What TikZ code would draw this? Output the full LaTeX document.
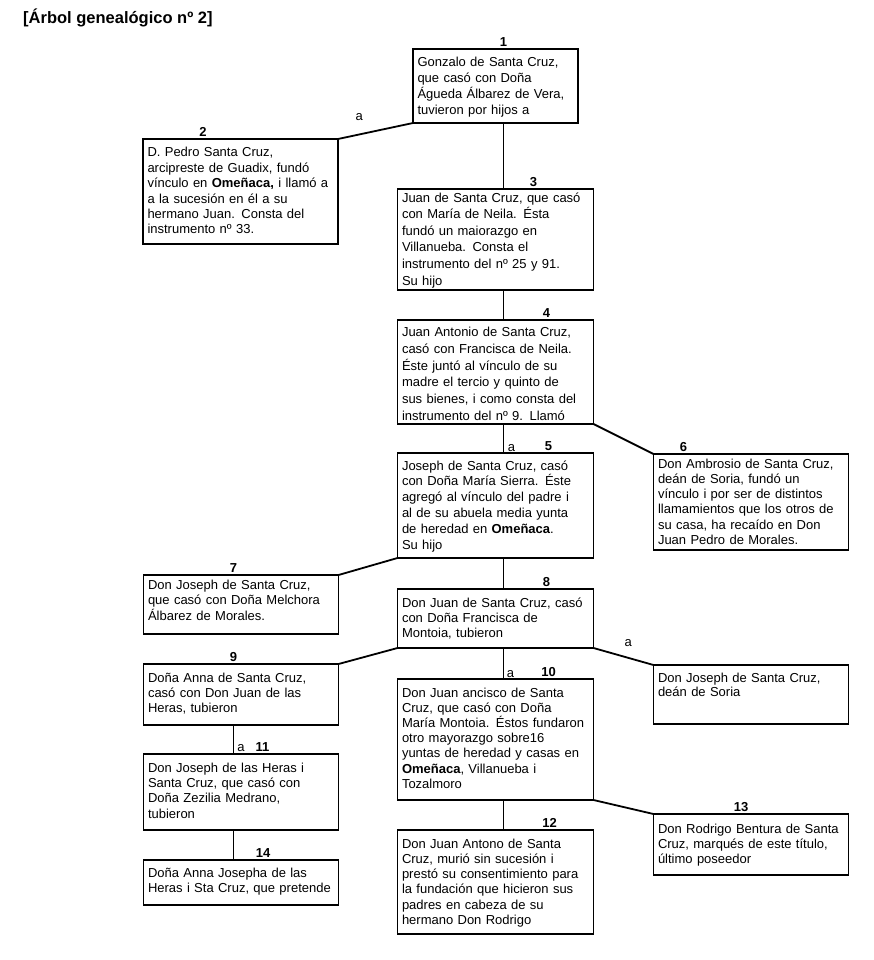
\documentclass[tikz,border=0pt]{standalone}
\usepackage{fontspec}
\setmainfont{Liberation Sans}
\usetikzlibrary{positioning}
\newcommand{\numfont}{\fontsize{13}{14}\selectfont\bfseries}
\tikzset{
	lead/.style={font=\fontsize{13}{#1}\selectfont},
	fam/.style={draw, line width=1.2pt, outer sep=0pt, inner xsep=4.5pt, inner ysep=0pt, text width=186pt, align=left, lead=15.2pt, text height=18pt},
	num/.style={inner sep=0pt, font=\numfont},
	lab/.style={inner sep=0pt, font=\fontsize{13}{15}\selectfont},
	conn/.style={line width=1.8pt}
}
\begin{document}
\begin{tikzpicture}[x=1pt, y=1pt]
				\useasboundingbox (0,0) rectangle (873,-960);
				\node[anchor=base west, inner sep=0pt, font=\fontsize{16.5}{20}\selectfont\bfseries] (title) at (23,-24) {[Árbol genealógico nº 2]};

				\node[fam, text width=156pt, lead=15.9pt, text depth=56pt, anchor=north west] (n1) at (413,-49) {Gonzalo de Santa Cruz,\\ que casó con  Doña\\ Águeda Álbarez  de Vera,\\ tuvieron por hijos a};
				\node[fam, lead=15.4pt, text height=18pt, text depth=87pt, below left=16pt and 75pt of n1.south west] (n2) {D. Pedro Santa Cruz,\\ arcipreste de Guadix, fundó\\ vínculo en \textbf{Omeñaca,} i llamó a\\ a la sucesión en él a su\\ hermano Juan. Consta del\\ instrumento nº 33.};
				\node[fam, text width=187pt, lead=16.6pt, text height=13pt, text depth=88pt, below=66pt of n1] (n3) {Juan de Santa Cruz, que casó\\ con María de Neila.  Ésta\\ fundó  un maiorazgo en\\ Villanueba. Consta el\\ instrumento  del nº 25 y 91.\\ Su hijo};
				\node[fam, text width=187pt, lead=16.7pt, text height=16.7pt, text depth=87.3pt, below=30pt of n3] (n4) {Juan Antonio de Santa Cruz,\\ casó con Francisca de Neila.\\ Éste juntó al vínculo de su\\ madre  el tercio y quinto de\\ sus bienes, i como consta del\\ instrumento del nº 9. Llamó};
				\node[fam, text width=187pt, lead=15.8pt, text height=17pt, text depth=88pt, below=29pt of n4] (n5) {Joseph de Santa Cruz, casó\\ con Doña María Sierra. Éste\\ agregó al vínculo del padre  i\\ al de su abuela media yunta\\ de heredad en \textbf{Omeñaca}.\\ Su hijo};
				\node[fam, lead=15.3pt, text height=14pt, text depth=82pt, below right=30pt and 60pt of n4.south east] (n6) {Don Ambrosio de Santa Cruz,\\ deán de Soria, fundó un\\ vínculo i por ser de distintos\\ llamamientos que los otros de\\ su casa, ha recaído en Don\\ Juan Pedro de Morales.};
				\node[fam, lead=15.8pt, text height=14pt, text depth=45pt, below left=17pt and 59pt of n5.south west] (n7) {Don Joseph de Santa Cruz,\\ que casó con Doña Melchora\\ Álbarez de Morales.};
				\node[fam, text width=187pt, text depth=41pt, below=31pt of n5] (n8) {Don Juan de Santa Cruz, casó\\ con Doña Francisca de\\ Montoia, tubieron};
				\node[fam, text height=18.5pt, text depth=42.5pt, below left=16pt and 59pt of n8.south west] (n9) {Doña Anna de Santa Cruz,\\ casó con Don Juan de las\\ Heras, tubieron};
				\node[fam, text width=187pt, text depth=103pt, below=31pt of n8] (n10) {Don Juan ancisco de Santa\\ Cruz, que casó con Doña\\ María Montoia. Éstos fundaron\\ otro mayorazgo sobre16\\ yuntas de heredad y casas en\\ \textbf{Omeñaca}, Villanueba i\\ Tozalmoro};
				\node[fam, lead=14.7pt, text height=17pt, text depth=42pt, below right=17pt and 60pt of n8.south east] (dean) {Don Joseph de Santa Cruz,\\ deán de Soria};
				\node[fam, text height=18.5pt, text depth=57.5pt, below=29pt of n9] (n11) {Don Joseph de las Heras  i\\ Santa Cruz, que casó con\\ Doña Zezilia Medrano,\\ tubieron};
				\node[fam, text width=187pt, lead=15.3pt, text depth=86pt, below=30pt of n10] (n12) {Don Juan Antono de Santa\\ Cruz,  murió sin sucesión i\\ prestó su consentimiento para\\ la  fundación que hicieron sus\\ padres en cabeza de su\\ hermano Don Rodrigo};
				\node[fam, lead=15.3pt, text height=19pt, text depth=42pt, below right=14pt and 60pt of n10.south east] (n13) {Don Rodrigo Bentura de Santa\\ Cruz, marqués de este título,\\ último poseedor};
				\node[fam, text height=17pt, text depth=28pt, below=30pt of n11] (n14) {Doña Anna Josepha de las\\ Heras i Sta Cruz, que pretende};

				\node[num, above=2pt of n1.north, xshift=8pt] (k1) {1};
				\node[num, above=2pt of n2.north, xshift=-37.5pt] (k2) {2};
				\node[num, above=2pt of n3.north, xshift=38pt] (k3) {3};
				\node[num, above=2pt of n4.north, xshift=51pt] (k4) {4};
				\node[num, above=2pt of n5.north, xshift=53pt] (k5) {5};
				\node[num, above=2pt of n6.north, xshift=-67.5pt] (k6) {6};
				\node[num, above=2pt of n7.north, xshift=-7.5pt] (k7) {7};
				\node[num, above=2pt of n8.north, xshift=51pt] (k8) {8};
				\node[num, above=2pt of n9.north, xshift=-7.5pt] (k9) {9};
				\node[num, above=2pt of n10.north, xshift=53pt] (k10) {10};
				\node[num, above=2pt of n11.north, xshift=21.5pt] (k11) {11};
				\node[num, above=2pt of n12.north, xshift=54pt] (k12) {12};
				\node[num, above=2pt of n13.north, xshift=-10pt] (k13) {13};
				\node[num, above=2pt of n14.north, xshift=22pt] (k14) {14};

				\node[lab, left=50pt of n1.south west, yshift=6pt] (a1) {a};
				\node[lab, above=1.5pt of n5.north, xshift=16pt] (a5) {a};
				\node[lab, right=31pt of n8.south east, yshift=5pt] (a8) {a};
				\node[lab, above=1.5pt of n10.north, xshift=15pt] (a10) {a};
				\node[lab, above=2pt of n11.north] (a11) {a};

				\draw[conn] (n1.south west) -- (n2.north east);
				\draw[conn] ([xshift=8pt]n1.south) -- ([xshift=8pt]n3.north);
				\draw[conn] ([xshift=8pt]n3.south) -- ([xshift=8pt]n4.north);
				\draw[conn] ([xshift=8pt]n4.south) -- ([xshift=8pt]n5.north);
				\draw[conn] (n4.south east) -- (n6.north west);
				\draw[conn] (n5.south west) -- (n7.north east);
				\draw[conn] ([xshift=8pt]n5.south) -- ([xshift=8pt]n8.north);
				\draw[conn] (n8.south west) -- (n9.north east);
				\draw[conn] ([xshift=8pt]n8.south) -- ([xshift=8pt]n10.north);
				\draw[conn] (n8.south east) -- (dean.north west);
				\draw[conn] ([xshift=-7.5pt]n9.south) -- ([xshift=-7.5pt]n11.north);
				\draw[conn] ([xshift=-7.5pt]n11.south) -- ([xshift=-7.5pt]n14.north);
				\draw[conn] ([xshift=8pt]n10.south) -- ([xshift=8pt]n12.north);
				\draw[conn] (n10.south east) -- (n13.north west);
\end{tikzpicture}
\end{document}
